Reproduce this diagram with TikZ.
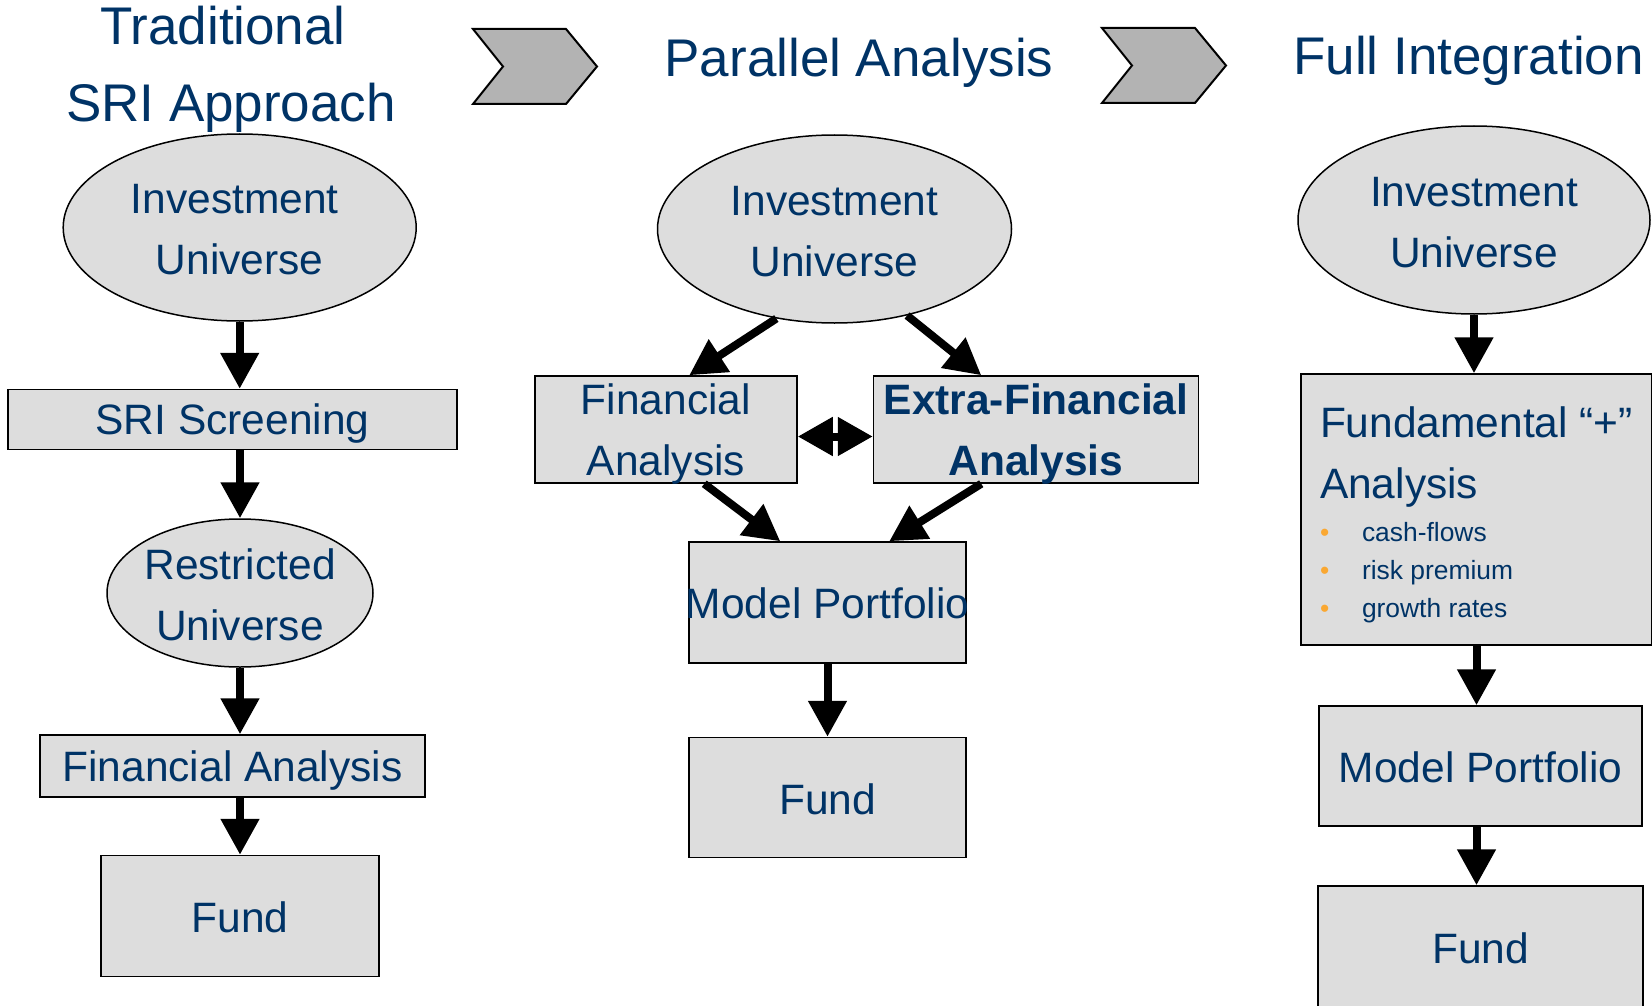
\documentclass[tikz,border=0pt]{standalone}
\usepackage{fontspec}
\setmainfont{Liberation Sans}
\usetikzlibrary{shapes.geometric,arrows.meta,calc}
\definecolor{txtblue}{RGB}{0,51,102}
\definecolor{boxgray}{RGB}{221,221,221}
\definecolor{chevgray}{RGB}{179,179,179}
\definecolor{bulc}{RGB}{250,168,50}
\begin{document}
\begin{tikzpicture}[x=1pt,y=-1pt,
  every node/.style={text=txtblue},
  title/.style={font=\fontsize{53}{77}\selectfont, anchor=base, inner sep=0pt},
  ell/.style={ellipse, draw=black, line width=1.5pt, fill=boxgray, inner sep=0pt, align=center, font=\fontsize{42.5}{61}\selectfont},
  box/.style={rectangle, draw=black, line width=1.5pt, fill=boxgray, inner sep=0pt, align=center, font=\fontsize{42.5}{61}\selectfont},
  arr/.style={line width=8pt, -{Triangle[width=37pt,length=36pt]}},
  dbl/.style={line width=8pt, {Triangle[width=37pt,length=35pt]}-{Triangle[width=37pt,length=35pt]}},
  chev/.style={draw=black, line width=2pt, fill=chevgray, line join=miter}
]
\clip (0,0) rectangle (1652,1006);

% titles
\node[title] (t1a) at (223,45) {Traditional};
\node[title] (t1b) at (231,122) {SRI Approach};
\node[title] (t2) at (859,77) {Parallel Analysis};
\node[title] (t3) at (1468.5,75) {Full Integration};

% chevrons
\draw[chev] (473,29) -- (566,29) -- (597,66.5) -- (566,104) -- (473,104) -- (503,66.5) -- cycle;
\draw[chev] (1102,28) -- (1195,28) -- (1226,65.5) -- (1195,103) -- (1102,103) -- (1132,65.5) -- cycle;

% left column
\node[ell, minimum width=353pt, minimum height=187pt] (iu1) at (239.7,227.5) {\rule{0pt}{34pt}Investment\hspace*{10pt}\\Universe};
\node[box, minimum width=449pt, minimum height=60pt, text depth=0pt] (sri) at (232.5,419.5) {SRI Screening};
\node[ell, minimum width=266pt, minimum height=148pt, inner xsep=-6pt] (ru1) at (240,593) {\rule{0pt}{34pt}Restricted\\Universe};
\node[box, minimum width=385pt, minimum height=62pt, text depth=0pt] (lfa) at (232.5,766) {Financial Analysis};
\node[box, minimum width=278pt, minimum height=121pt] (lfund) at (240,916) {\rule{0pt}{34pt}Fund};

% middle column
\node[ell, minimum width=354pt, minimum height=188pt] (iu2) at (834.5,229) {\rule{0pt}{34pt}Investment\\Universe};
\node[box, minimum width=262pt, minimum height=107pt] (mfa) at (666,429.5) {\rule{0pt}{31pt}Financial\\\smash{Analysis}};
\node[box, minimum width=325pt, minimum height=107pt, font=\fontsize{42.5}{61}\selectfont\bfseries] (efa) at (1036,429.5) {\rule{0pt}{31pt}Extra-Financial\\\smash{Analysis}};
\node[box, minimum width=277pt, minimum height=121pt] (mmp) at (827.5,602.5) {\makebox[0pt]{\rule{0pt}{33pt}Model Portfolio}};
\node[box, minimum width=277pt, minimum height=120pt] (mfund) at (827.5,797.5) {\rule{0pt}{34pt}Fund};

% right column
\node[ell, minimum width=352pt, minimum height=188pt] (iu3) at (1474,220) {\rule{0pt}{34pt}Investment\\Universe};
\node[box, minimum width=351pt, minimum height=271pt, align=flush left, text width=313pt, inner xsep=19pt, inner ysep=0pt] (fund3) at (1476.5,509.5)
 {\rule{0pt}{41.5pt}\mbox{Fundamental “+”}\par Analysis\par
  \vspace{5pt}
  {\fontsize{26.4}{38}\selectfont
  \makebox[42pt][l]{\textcolor{bulc}{•}}cash-flows\par
  \makebox[42pt][l]{\textcolor{bulc}{•}}risk premium\par
  \makebox[42pt][l]{\textcolor{bulc}{•}}growth rates\par}};
\node[box, minimum width=323pt, minimum height=120pt] (rmp) at (1480.5,766) {\rule{0pt}{33pt}Model Portfolio};
\node[box, minimum width=325pt, minimum height=124pt] (rfund) at (1480.5,948) {Fund};

% connectors left
\draw[arr] (iu1.south) -- (iu1.south |- sri.north);
\draw[arr] (sri.south -| ru1.north) -- (ru1.north);
\draw[arr] (ru1.south) -- (ru1.south |- lfa.north);
\draw[arr] (lfa.south -| lfund.north) -- (lfund.north);

% connectors middle
\draw[arr] (iu2.237.8) -- ([xshift=155pt]mfa.north west);
\draw[arr] (iu2.310) -- ([xshift=108.5pt]efa.north west);
\draw[arr] ([xshift=170pt]mfa.south west) -- ([xshift=92pt]mmp.north west);
\draw[arr] ([xshift=108.5pt]efa.south west) -- ([xshift=201pt]mmp.north west);
\draw[dbl] ([yshift=-7pt]mfa.east) -- ([yshift=-7pt]efa.west);
\draw[arr] (mmp.south) -- (mfund.north);

% connectors right
\draw[arr] (iu3.south) -- (iu3.south |- fund3.north);
\draw[arr] (fund3.south) -- (fund3.south |- rmp.north);
\draw[arr] (fund3.south |- rmp.south) -- (fund3.south |- rfund.north);
\end{tikzpicture}
\end{document}
